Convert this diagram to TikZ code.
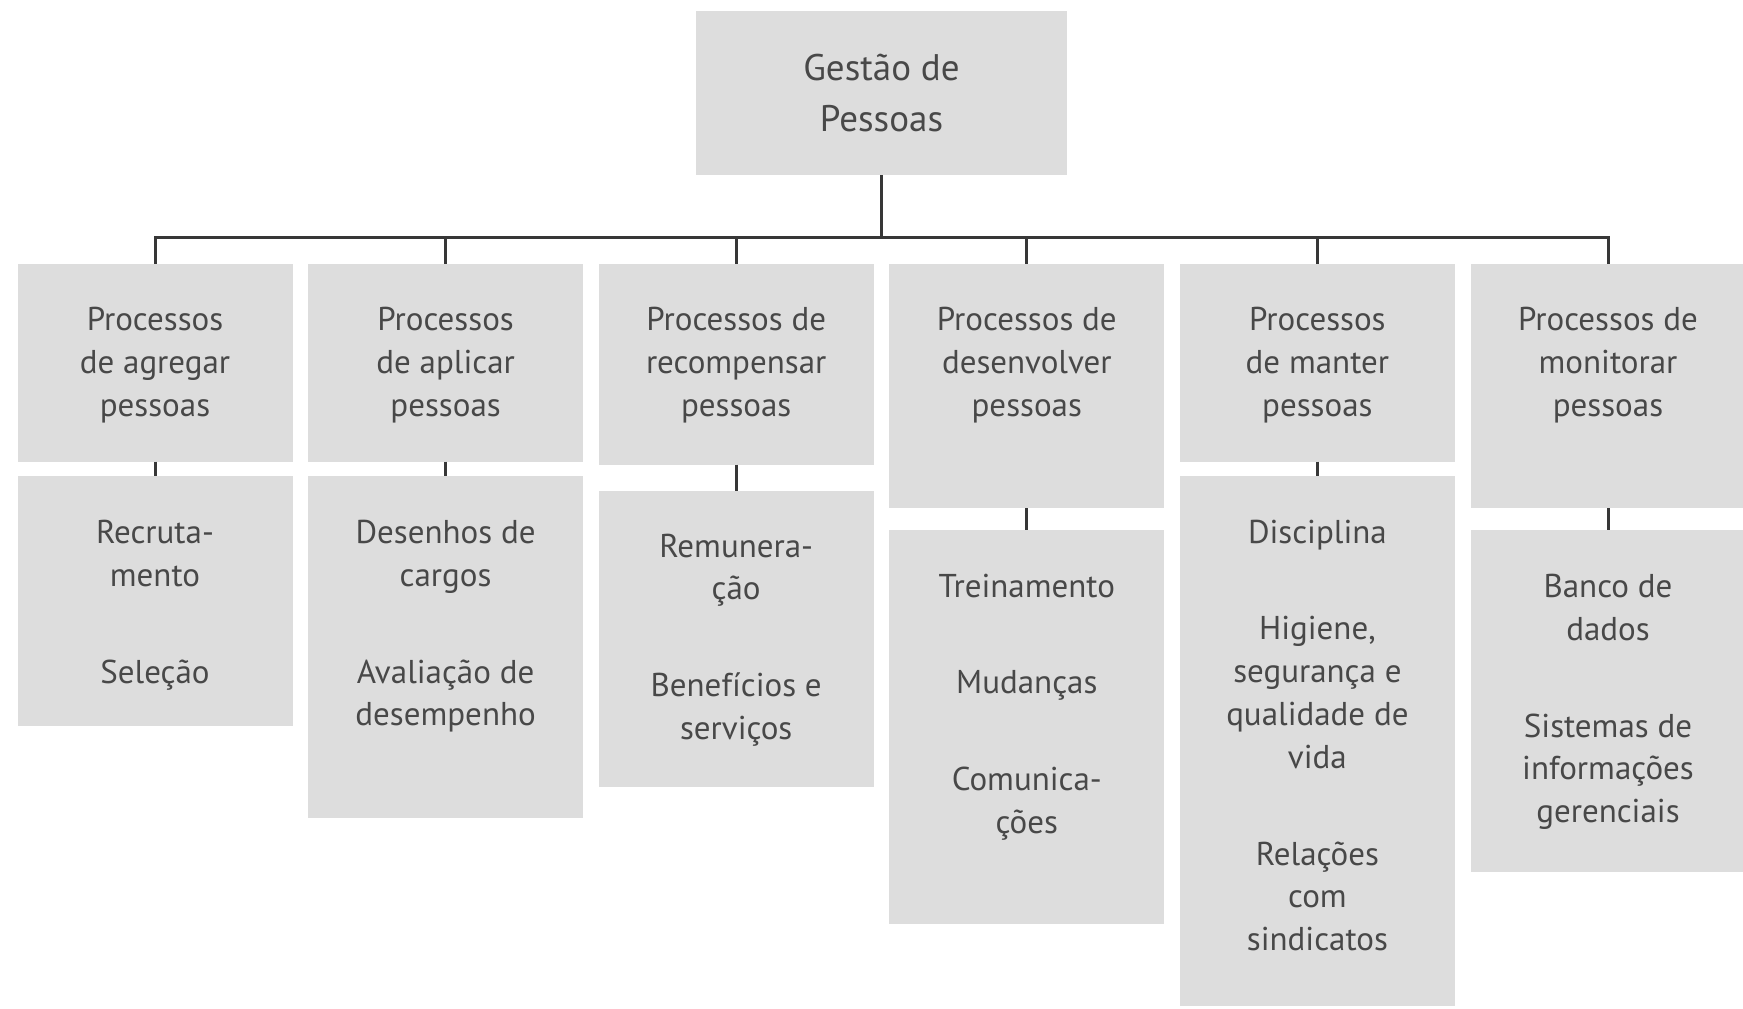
\documentclass[tikz,border=0pt]{standalone}
\usepackage{fontspec}
\setmainfont{PT Sans}
\definecolor{boxgray}{RGB}{221,221,221}
\definecolor{txtgray}{RGB}{72,72,72}
\definecolor{linegray}{RGB}{55,55,55}
\begin{document}
\begin{tikzpicture}[x=1pt,y=-1pt,
  box/.style={fill=boxgray, draw=none, minimum width=275pt, inner sep=0pt, outer sep=0pt, anchor=north},
  txt/.style={text=txtgray, align=center, inner sep=0pt, anchor=north, font=\fontsize{33pt}{42.8pt}\selectfont},
  conn/.style={draw=linegray, line width=3pt}]
\useasboundingbox[fill=white] (0,0) rectangle (1743,1009);
% top
\node[box, minimum width=371pt, minimum height=164pt] (top) at (881.5,11) {};
\node[txt, font=\fontsize{37pt}{51pt}\selectfont] (toptxt) at (881.5,53.5) {Gestão de\\Pessoas};
% row 1
\node[box, minimum height=198pt] (p1) at (155,263.5) {};
\node[box, minimum height=198pt] (p2) at (445.6,263.5) {};
\node[box, minimum height=201pt] (p3) at (736.2,263.5) {};
\node[box, minimum height=244.5pt] (p4) at (1026.8,263.5) {};
\node[box, minimum height=198pt] (p5) at (1317.4,263.5) {};
\node[box, minimum height=244.5pt] (p6) at (1608,263.5) {};
\node[txt] (p1t) at (155,307) {Processos\\de agregar\\pessoas};
\node[txt] (p2t) at (445.6,307) {Processos\\de aplicar\\pessoas};
\node[txt] (p3t) at (736.2,307) {Processos de\\recompensar\\pessoas};
\node[txt] (p4t) at (1026.8,307) {Processos de\\desenvolver\\pessoas};
\node[txt] (p5t) at (1317.4,307) {Processos\\de manter\\pessoas};
\node[txt] (p6t) at (1608,307) {Processos de\\monitorar\\pessoas};
% row 2
\node[box, minimum height=250pt] (s1) at (155,475.8) {};
\node[box, minimum height=342.3pt] (s2) at (445.6,475.8) {};
\node[box, minimum height=295.7pt] (s3) at (736.2,491.3) {};
\node[box, minimum height=393.5pt] (s4) at (1026.8,530.2) {};
\node[box, minimum height=530.2pt] (s5) at (1317.4,475.8) {};
\node[box, minimum height=341.3pt] (s6) at (1608,530.2) {};
\node[txt] (s1t) at (155,520) {Recruta-\\mento\\[54pt]Seleção};
\node[txt] (s2t) at (445.6,520) {Desenhos de\\cargos\\[54pt]Avaliação de\\desempenho};
\node[txt] (s3t) at (736.2,533.5) {Remunera-\\ção\\[54pt]Benefícios e\\serviços};
\node[txt] (s4t) at (1026.8,573.5) {Treinamento\\[54pt]Mudanças\\[54pt]Comunica-\\ções};
\node[txt] (s5t) at (1317.4,519.5) {Disciplina\\[54pt]Higiene,\\segurança e\\qualidade de\\vida\\[54pt]Relações\\com\\sindicatos};
\node[txt] (s6t) at (1608,574) {Banco de\\dados\\[54pt]Sistemas de\\informações\\gerenciais};
% connectors
\coordinate (bus) at (881.5,237);
\foreach \i in {1,...,6} {
  \draw[conn] (top.south) -- (top.south |- bus) -| (p\i.north);
  \draw[conn] (p\i.south) -- (s\i.north);
}
\end{tikzpicture}
\end{document}
